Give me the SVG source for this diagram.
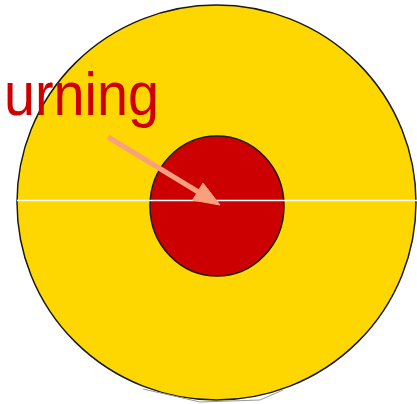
<svg xmlns="http://www.w3.org/2000/svg" width="417" height="404" viewBox="0 0 417 404">
<style>
.outline{stroke:#1a1a1a;stroke-width:1.5}
.lbl{font-family:"Liberation Sans",Arial,sans-serif;fill:#CC0000}
.arrow{fill:#F9A07E;stroke:#F9A07E}
</style>
<rect width="417" height="404" fill="#fff"/>
<g id="outer">
<ellipse cx="216.5" cy="202.5" rx="199.5" ry="197.5" fill="#FFD700" class="outline"/>
<polygon points="140,388 200,402 260,400 286,389 300,404 130,404" fill="#fff"/>
<polyline points="143,389 200,402 260,400 283,390" fill="none" stroke="#999" stroke-width="1"/>
</g>
<g id="inner">
<ellipse cx="217" cy="206" rx="67" ry="70" fill="#CC0000" class="outline"/>
</g>
<g id="connectors">
<line x1="17" y1="200.5" x2="417" y2="200.5" stroke="#fff" stroke-width="1.5"/>
<line x1="108" y1="137" x2="200" y2="193" class="arrow" stroke-width="5"/>
<polygon points="220,205 192.6,200.1 203,183" class="arrow" stroke-width="1"/>
</g>
<g id="label">
<text class="lbl" x="4" y="115" font-size="62" textLength="155" lengthAdjust="spacingAndGlyphs">urning</text>
</g>
</svg>
